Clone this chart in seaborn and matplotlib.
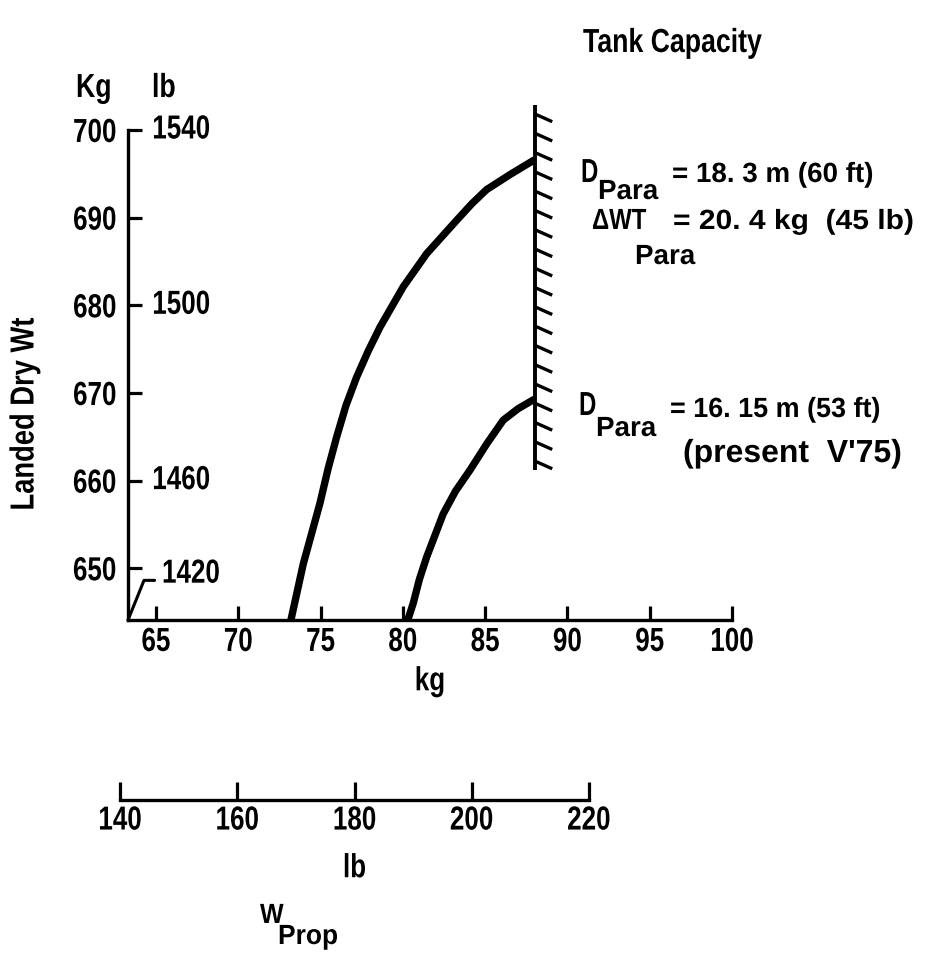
import numpy as np
import pandas as pd
import matplotlib
matplotlib.use("Agg")
import matplotlib.pyplot as plt
import matplotlib.patheffects as pe
from matplotlib.transforms import Affine2D
import seaborn as sns

# ---------------- data ----------------
prop_kg_60ft = [73.2, 73.95, 74.96, 75.45, 75.98, 76.55, 77.19, 77.9, 78.61, 80.02, 81.45,
                83.27, 84.2, 85.09, 86.5, 88.0]
dry_wt_60ft = [644.1, 650.5, 657.4, 661.3, 665.0, 668.6, 671.8, 674.8, 677.5, 682.1, 685.9,
               689.7, 691.6, 693.2, 694.9, 696.6]
prop_kg_53ft = [80.3, 80.63, 81.0, 81.45, 82.45, 83.2, 84.08, 85.1, 86.10, 87.0, 88.0]
dry_wt_53ft = [644.1, 646.0, 648.7, 651.3, 656.2, 658.8, 661.2, 664.2, 666.9, 668.2, 669.3]
tank_capacity_kg = 88.0
tank_wt_range = [702.9, 661.2]

kg_xticks = [65, 70, 75, 80, 85, 90, 95, 100]
kg_yticks = [650, 660, 670, 680, 690, 700]
lb_ytick_pos = [700, 680, 660]
lb_ytick_labels = ["1540", "1500", "1460"]
lb_corner_label = "1420"
lb_xticks = [140, 160, 180, 200, 220]

x_range = (63.3, 100.0)
y_range = (644.1, 703.5)


# ---------------- condensed text effect ----------------
class Squeeze(pe.AbstractPathEffect):
    """Narrow the glyphs along the baseline (condensed typewriter look)."""

    def __init__(self, sx=0.8, anchor="left"):
        super().__init__()
        self.sx = sx
        self.anchor = anchor

    def draw_path(self, renderer, gc, tpath, affine, rgbFace=None):
        cx = 0.0
        if len(tpath.vertices):
            ext = tpath.get_extents()
            if self.anchor == "center":
                cx = (ext.x0 + ext.x1) / 2
            elif self.anchor == "right":
                cx = ext.x1
        t = Affine2D().translate(-cx, 0).scale(self.sx, 1).translate(cx, 0) + affine
        renderer.draw_path(gc, tpath, t, rgbFace)


# ---------------- style ----------------
sns.set_theme(style="white")
plt.rcParams["font.family"] = ["Liberation Sans", "DejaVu Sans"]
plt.rcParams["font.weight"] = "bold"
plt.rcParams["axes.labelweight"] = "bold"
plt.rcParams["text.color"] = "black"
plt.rcParams["axes.labelcolor"] = "black"

W, H = 948, 955
fig = plt.figure(figsize=(W / 100, H / 100), dpi=100)
fig.patch.set_facecolor("white")


def fx(px):
    return px / W


def fy(py):
    return 1 - py / H


def ftext(x, y, s, size, sx, **kw):
    ha = kw.pop("ha", "left")
    t = fig.text(fx(x), fy(y), s, fontsize=size, ha=ha, va=kw.pop("va", "baseline"), **kw)
    t.set_path_effects([Squeeze(sx, ha)])
    return t


FS = 24
SQ = 0.78

AX_L, AX_R = 128, 732
ax = fig.add_axes([fx(AX_L), fy(620), fx(AX_R) - fx(AX_L), fy(99.3) - fy(620)])
ax.set_facecolor("none")

df = pd.concat([
    pd.DataFrame({"kg": prop_kg_60ft, "wt": dry_wt_60ft, "series": "60 ft"}),
    pd.DataFrame({"kg": prop_kg_53ft, "wt": dry_wt_53ft, "series": "53 ft"}),
])
sns.lineplot(data=df, x="kg", y="wt", hue="series", palette={"60 ft": "black", "53 ft": "black"},
             estimator=None, sort=False, lw=5.3, legend=False, ax=ax)
for ln in ax.lines:
    ln.set_solid_capstyle("butt")
    ln.set_solid_joinstyle("round")

# tank capacity hatched wall
ax.plot([tank_capacity_kg, tank_capacity_kg], tank_wt_range, color="black", lw=2.8,
        solid_capstyle="butt", clip_on=False,
        path_effects=[pe.withTickedStroke(angle=66, spacing=13.3, length=1.05, linewidth=2.4)])

ax.set_xlim(*x_range)
ax.set_ylim(*y_range)
for s in ["top", "right"]:
    ax.spines[s].set_visible(False)
for s in ["left", "bottom"]:
    ax.spines[s].set_linewidth(2.4)
    ax.spines[s].set_color("black")
ax.spines["left"].set_bounds(y_range[0], 700)
ax.spines["bottom"].set_bounds(x_range[0], x_range[1])

ax.set_xticks(kg_xticks)
ax.set_yticks(kg_yticks)
ax.tick_params(axis="both", direction="in", length=10, width=2.3, colors="black",
               labelsize=FS, bottom=True, left=True)
ax.tick_params(axis="x", pad=5)
ax.tick_params(axis="y", pad=8)
ax.set_xlabel("kg", fontsize=FS, labelpad=6)
ax.xaxis.label.set_path_effects([Squeeze(SQ, "center")])
ax.set_ylabel("")

# lb labels on the right of the left spine
for pos, lab in zip(lb_ytick_pos, lb_ytick_labels):
    t = ax.annotate(lab, xy=(x_range[0], pos), xytext=(17.5, 0), textcoords="offset points",
                    ha="left", va="center", fontsize=FS)
    t.set_path_effects([Squeeze(SQ, "left")])
t = ax.annotate(lb_corner_label, xy=(x_range[0], y_range[0]), xytext=(24.5, 33),
                textcoords="offset points", ha="left", va="center", fontsize=FS,
                arrowprops=dict(arrowstyle="-", lw=2.2, color="black", shrinkA=3, shrinkB=0,
                                relpos=(0, 0.3),
                                connectionstyle="angle,angleA=0,angleB=68,rad=0"))
t.set_path_effects([Squeeze(SQ, "left")])

# headers and labels
ftext(76, 97, "Kg", FS, 0.8)
ftext(152, 97, "lb", FS, 0.8)
ftext(583, 52, "Tank Capacity", FS, 0.8)
ftext(25, 414, "Landed Dry Wt", FS, 0.82, rotation=90, ha="center", va="center")

# annotations beside the tank-capacity wall
SUB = 20
ftext(581, 182, "D", FS, 0.72)
ftext(598, 199, "Para", SUB, 1.0)
ftext(672, 182, "= 18. 3 m (60 ft)", SUB, 1.0)

ftext(592, 229, "\u0394WT", 21, 0.82)
ftext(635, 264, "Para", SUB, 1.0)
ftext(673, 229, "= 20. 4 kg  (45 lb)", SUB, 1.08)

ftext(579, 415, "D", FS, 0.72)
ftext(596, 436, "Para", SUB, 1.0)
ftext(670, 417, "= 16. 15 m (53 ft)", SUB, 0.97)
ftext(683, 462, "(present  V'75)", 23, 1.0)

# secondary lb propellant scale
ax2 = fig.add_axes([fx(120), fy(800), fx(589) - fx(120), 0.0005])
ax2.set_facecolor("none")
ax2.set_xlim(lb_xticks[0], lb_xticks[-1])
ax2.set_ylim(0, 1)
for s in ["top", "right", "left"]:
    ax2.spines[s].set_visible(False)
ax2.spines["bottom"].set_linewidth(2.4)
ax2.spines["bottom"].set_color("black")
ax2.set_yticks([])
ax2.set_xticks(lb_xticks)
ax2.tick_params(axis="x", direction="in", length=13, width=2.3, colors="black",
                labelsize=FS, pad=4, bottom=True)
ax2.set_xlabel("lb", fontsize=FS, labelpad=12)
ax2.xaxis.label.set_path_effects([Squeeze(SQ, "center")])

ftext(260, 923, "W", SUB, 0.9)
ftext(278, 944, "Prop", SUB, 0.95)

# condense tick labels
fig.canvas.draw()
for lab in ax.get_xticklabels() + ax2.get_xticklabels():
    lab.set_path_effects([Squeeze(SQ, "center")])
for lab in ax.get_yticklabels():
    lab.set_path_effects([Squeeze(SQ, "right")])

fig.savefig("out.png", dpi=100, facecolor="white")
